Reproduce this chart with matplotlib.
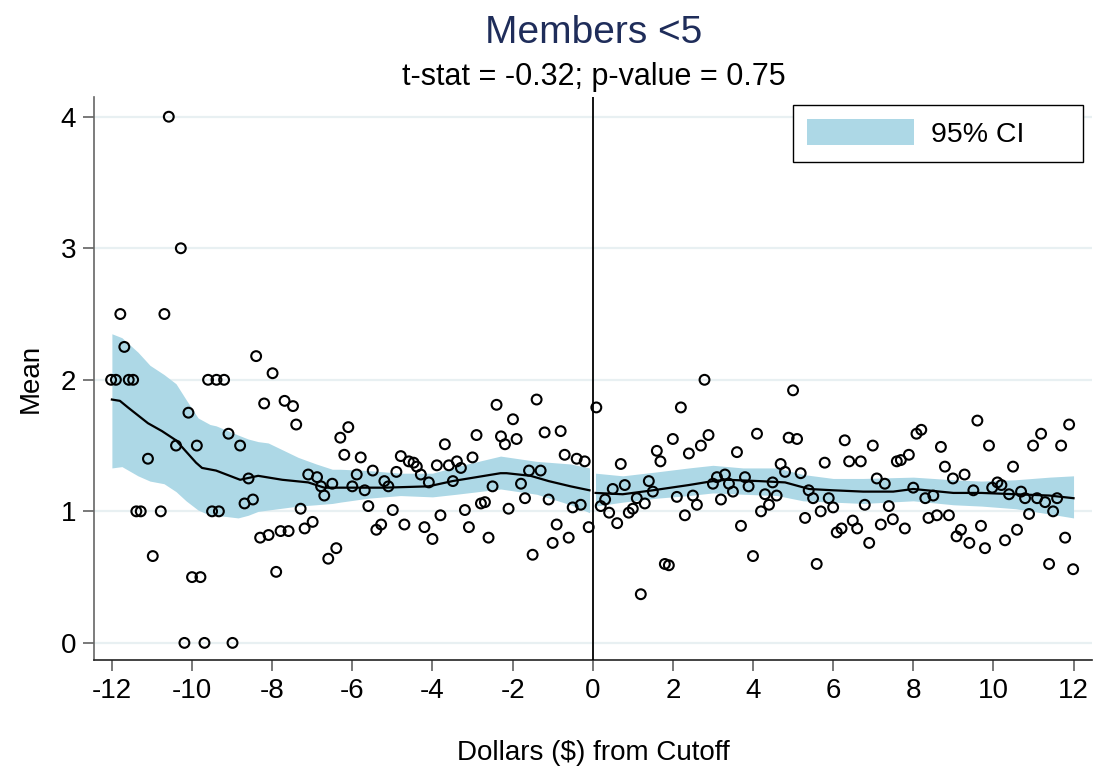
import matplotlib.pyplot as plt
import numpy as np

plt.rcParams['font.family'] = ['Liberation Sans', 'DejaVu Sans']
plt.rcParams['axes.unicode_minus'] = False

# binned means, left of cutoff
left_x = [-12.02, -11.9, -11.79, -11.69, -11.58, -11.47, -11.39, -11.28, -11.1, -10.98,
          -10.78, -10.69, -10.58, -10.4, -10.28, -10.19, -10.09, -10.0, -9.88, -9.79,
          -9.69, -9.6, -9.5, -9.39, -9.33, -9.2, -9.09, -8.99, -8.8, -8.69,
          -8.59, -8.48, -8.4, -8.3, -8.2, -8.09, -7.99, -7.9, -7.79, -7.69,
          -7.59, -7.48, -7.4, -7.29, -7.19, -7.1, -6.99, -6.88, -6.78, -6.7,
          -6.6, -6.5, -6.4, -6.3, -6.2, -6.1, -6.0, -5.89, -5.79, -5.69,
          -5.6, -5.49, -5.4, -5.28, -5.2, -5.1, -4.99, -4.9, -4.79, -4.7,
          -4.59, -4.47, -4.39, -4.29, -4.2, -4.09, -4.0, -3.89, -3.8, -3.69,
          -3.59, -3.49, -3.39, -3.29, -3.19, -3.09, -3.0, -2.9, -2.79, -2.69,
          -2.6, -2.5, -2.4, -2.29, -2.19, -2.1, -1.99, -1.9, -1.79, -1.69,
          -1.59, -1.5, -1.4, -1.3, -1.2, -1.1, -1.0, -0.9, -0.8, -0.7,
          -0.6, -0.5, -0.4, -0.3, -0.2, -0.1]
left_mean = [2.0, 2.0, 2.5, 2.25, 2.0, 2.0, 1.0, 1.0, 1.4, 0.66,
             1.0, 2.5, 4.0, 1.5, 3.0, 0.0, 1.75, 0.5, 1.5, 0.5,
             0.0, 2.0, 1.0, 2.0, 1.0, 2.0, 1.59, 0.0, 1.5, 1.06,
             1.25, 1.09, 2.18, 0.8, 1.82, 0.82, 2.05, 0.54, 0.85, 1.84,
             0.85, 1.8, 1.66, 1.02, 0.87, 1.28, 0.92, 1.26, 1.19, 1.12,
             0.64, 1.21, 0.72, 1.56, 1.43, 1.64, 1.19, 1.28, 1.41, 1.16,
             1.04, 1.31, 0.86, 0.9, 1.23, 1.19, 1.01, 1.3, 1.42, 0.9,
             1.38, 1.37, 1.34, 1.28, 0.88, 1.22, 0.79, 1.35, 0.97, 1.51,
             1.35, 1.23, 1.38, 1.33, 1.01, 0.88, 1.41, 1.58, 1.06, 1.07,
             0.8, 1.19, 1.81, 1.57, 1.51, 1.02, 1.7, 1.55, 1.21, 1.1,
             1.31, 0.67, 1.85, 1.31, 1.6, 1.09, 0.76, 0.9, 1.61, 1.43,
             0.8, 1.03, 1.4, 1.05, 1.38, 0.88]

# binned means, right of cutoff
right_x = [0.09, 0.2, 0.31, 0.41, 0.5, 0.61, 0.7, 0.8, 0.9, 1.0,
           1.1, 1.2, 1.3, 1.4, 1.5, 1.6, 1.69, 1.8, 1.9, 2.0,
           2.1, 2.2, 2.3, 2.4, 2.5, 2.6, 2.7, 2.79, 2.89, 3.0,
           3.1, 3.2, 3.3, 3.4, 3.5, 3.6, 3.7, 3.8, 3.89, 4.0,
           4.1, 4.2, 4.3, 4.4, 4.49, 4.59, 4.69, 4.8, 4.89, 5.0,
           5.1, 5.19, 5.3, 5.39, 5.5, 5.59, 5.69, 5.79, 5.89, 6.0,
           6.09, 6.21, 6.29, 6.4, 6.49, 6.6, 6.69, 6.79, 6.9, 6.99,
           7.09, 7.19, 7.29, 7.39, 7.49, 7.59, 7.69, 7.79, 7.89, 8.0,
           8.08, 8.2, 8.3, 8.38, 8.5, 8.59, 8.69, 8.79, 8.89, 8.99,
           9.08, 9.19, 9.28, 9.4, 9.5, 9.6, 9.69, 9.79, 9.89, 9.97,
           10.1, 10.2, 10.29, 10.39, 10.49, 10.59, 10.69, 10.79, 10.89, 10.99,
           11.09, 11.19, 11.29, 11.39, 11.49, 11.59, 11.69, 11.79, 11.89, 11.99]
right_mean = [1.79, 1.04, 1.09, 0.99, 1.17, 0.91, 1.36, 1.2, 0.99, 1.02,
              1.1, 0.37, 1.06, 1.23, 1.15, 1.46, 1.38, 0.6, 0.59, 1.55,
              1.11, 1.79, 0.97, 1.44, 1.12, 1.05, 1.5, 2.0, 1.58, 1.21,
              1.26, 1.09, 1.28, 1.21, 1.15, 1.45, 0.89, 1.26, 1.19, 0.66,
              1.59, 1.0, 1.13, 1.05, 1.22, 1.12, 1.36, 1.3, 1.56, 1.92,
              1.55, 1.29, 0.95, 1.16, 1.1, 0.6, 1.0, 1.37, 1.1, 1.03,
              0.84, 0.87, 1.54, 1.38, 0.93, 0.87, 1.38, 1.05, 0.76, 1.5,
              1.25, 0.9, 1.21, 1.04, 0.94, 1.38, 1.39, 0.87, 1.43, 1.18,
              1.59, 1.62, 1.1, 0.95, 1.12, 0.97, 1.49, 1.34, 0.97, 1.25,
              0.81, 0.86, 1.28, 0.76, 1.16, 1.69, 0.89, 0.72, 1.5, 1.18,
              1.22, 1.2, 0.78, 1.13, 1.34, 0.86, 1.15, 1.1, 0.98, 1.5,
              1.1, 1.59, 1.07, 0.6, 1.0, 1.1, 1.5, 0.8, 1.66, 0.56]

# local linear fit and 95% CI, left
fit_left_x = [-12.0, -11.8, -11.6, -11.1, -10.75, -10.4, -9.9, -9.75, -9.4, -8.8,
              -8.35, -7.75, -7.1, -6.7, -6.3, -5.2, -4.1, -3.5, -3.3, -2.3,
              -2.15, -1.55, -1.1, -0.55, -0.08]
fit_left = [1.85, 1.84, 1.79, 1.67, 1.61, 1.54, 1.37, 1.33, 1.31, 1.24,
            1.27, 1.24, 1.22, 1.18, 1.18, 1.18, 1.19, 1.23, 1.24, 1.29,
            1.29, 1.27, 1.23, 1.19, 1.16]
ci_left_x = [-12.0, -11.75, -11.35, -11.05, -10.7, -10.4, -10.15, -9.85, -9.55, -9.4,
             -8.85, -8.6, -8.35, -8.1, -7.35, -6.9, -6.5, -6.3, -5.6, -4.8,
             -4.0, -3.4, -2.3, -1.4, -0.55, -0.08]
ci_left_hi = [2.35, 2.32, 2.21, 2.11, 2.04, 1.97, 1.85, 1.71, 1.66, 1.65,
              1.58, 1.55, 1.53, 1.52, 1.41, 1.36, 1.32, 1.32, 1.31, 1.29,
              1.29, 1.34, 1.42, 1.38, 1.36, 1.33]
ci_left_lo = [1.33, 1.34, 1.27, 1.23, 1.21, 1.15, 1.08, 1.01, 0.97, 0.97,
              0.95, 0.97, 1.0, 1.01, 1.04, 1.05, 1.06, 1.07, 1.1, 1.12,
              1.11, 1.13, 1.17, 1.13, 1.05, 0.99]

# local linear fit and 95% CI, right
fit_right_x = [0.07, 0.75, 1.5, 2.4, 3.0, 3.35, 4.15, 4.8, 5.4, 6.0,
               6.75, 7.5, 8.0, 9.0, 9.7, 10.55, 11.4, 12.0]
fit_right = [1.14, 1.13, 1.16, 1.2, 1.23, 1.24, 1.23, 1.22, 1.17, 1.16,
             1.15, 1.15, 1.17, 1.14, 1.14, 1.13, 1.12, 1.1]
ci_right_x = [0.07, 0.75, 1.6, 2.4, 3.0, 3.75, 4.6, 5.25, 6.0, 6.75,
              8.0, 9.0, 9.7, 10.55, 11.4, 12.0]
ci_right_hi = [1.29, 1.27, 1.3, 1.33, 1.35, 1.33, 1.33, 1.28, 1.25, 1.25,
               1.26, 1.24, 1.23, 1.24, 1.26, 1.27]
ci_right_lo = [1.04, 1.07, 1.1, 1.12, 1.14, 1.13, 1.12, 1.08, 1.07, 1.06,
               1.08, 1.05, 1.04, 1.02, 0.98, 0.95]

xticks = [-12, -10, -8, -6, -4, -2, 0, 2, 4, 6, 8, 10, 12]
yticks = [0, 1, 2, 3, 4]

fig = plt.figure(figsize=(11, 7.74), dpi=100)
ax = fig.add_axes([0.0857, 0.1473, 0.907, 0.7274])

band = '#add8e6'
ax.fill_between(ci_left_x, ci_left_lo, ci_left_hi, color=band, lw=0, zorder=2, label='95% CI')
ax.fill_between(ci_right_x, ci_right_lo, ci_right_hi, color=band, lw=0, zorder=2)
ax.plot(fit_left_x, fit_left, color='black', lw=1.6, zorder=3)
ax.plot(fit_right_x, fit_right, color='black', lw=1.6, zorder=3)
ax.scatter(left_x + right_x, left_mean + right_mean, s=50, facecolors='none',
           edgecolors='black', linewidths=1.5, zorder=4)
ax.axvline(0, color='black', lw=1.3, zorder=5)

ax.set_xlim(-12.44, 12.46)
ax.set_ylim(-0.13, 4.15)
ax.set_xticks(xticks)
ax.set_yticks(yticks)
ax.set_yticklabels([str(t) for t in yticks])
ax.grid(axis='y', color='#e8f0f2', lw=1.6, zorder=0)
ax.set_axisbelow(True)

for s in ['top', 'right']:
    ax.spines[s].set_visible(False)
ax.spines['left'].set_color('#666666')
ax.spines['bottom'].set_color('#222222')
ax.spines['left'].set_linewidth(1.2)
ax.spines['bottom'].set_linewidth(1.2)
ax.tick_params(axis='both', length=8, width=1.1, color='#555555', labelsize=20, pad=5)

ax.set_xlabel('Dollars ($) from Cutoff', fontsize=20, labelpad=26)
ax.set_ylabel('Mean', fontsize=20, labelpad=12)

fig.text(0.54, 0.958, 'Members <5', ha='center', va='center', fontsize=28, color='#1f2d5a')
fig.text(0.54, 0.900, 't-stat = -0.32; p-value = 0.75', ha='center', va='center', fontsize=22)

leg = ax.legend(loc='upper left', bbox_to_anchor=(0.700, 0.8, 0.2907, 0.186), mode='expand',
                borderaxespad=0, fontsize=20.5, handlelength=3.75, handleheight=1.0,
                handletextpad=0.6, borderpad=0.5, fancybox=False, framealpha=1)
leg.get_frame().set_edgecolor('black')
leg.get_frame().set_linewidth(1.0)

fig.savefig('out.png', dpi=100)
